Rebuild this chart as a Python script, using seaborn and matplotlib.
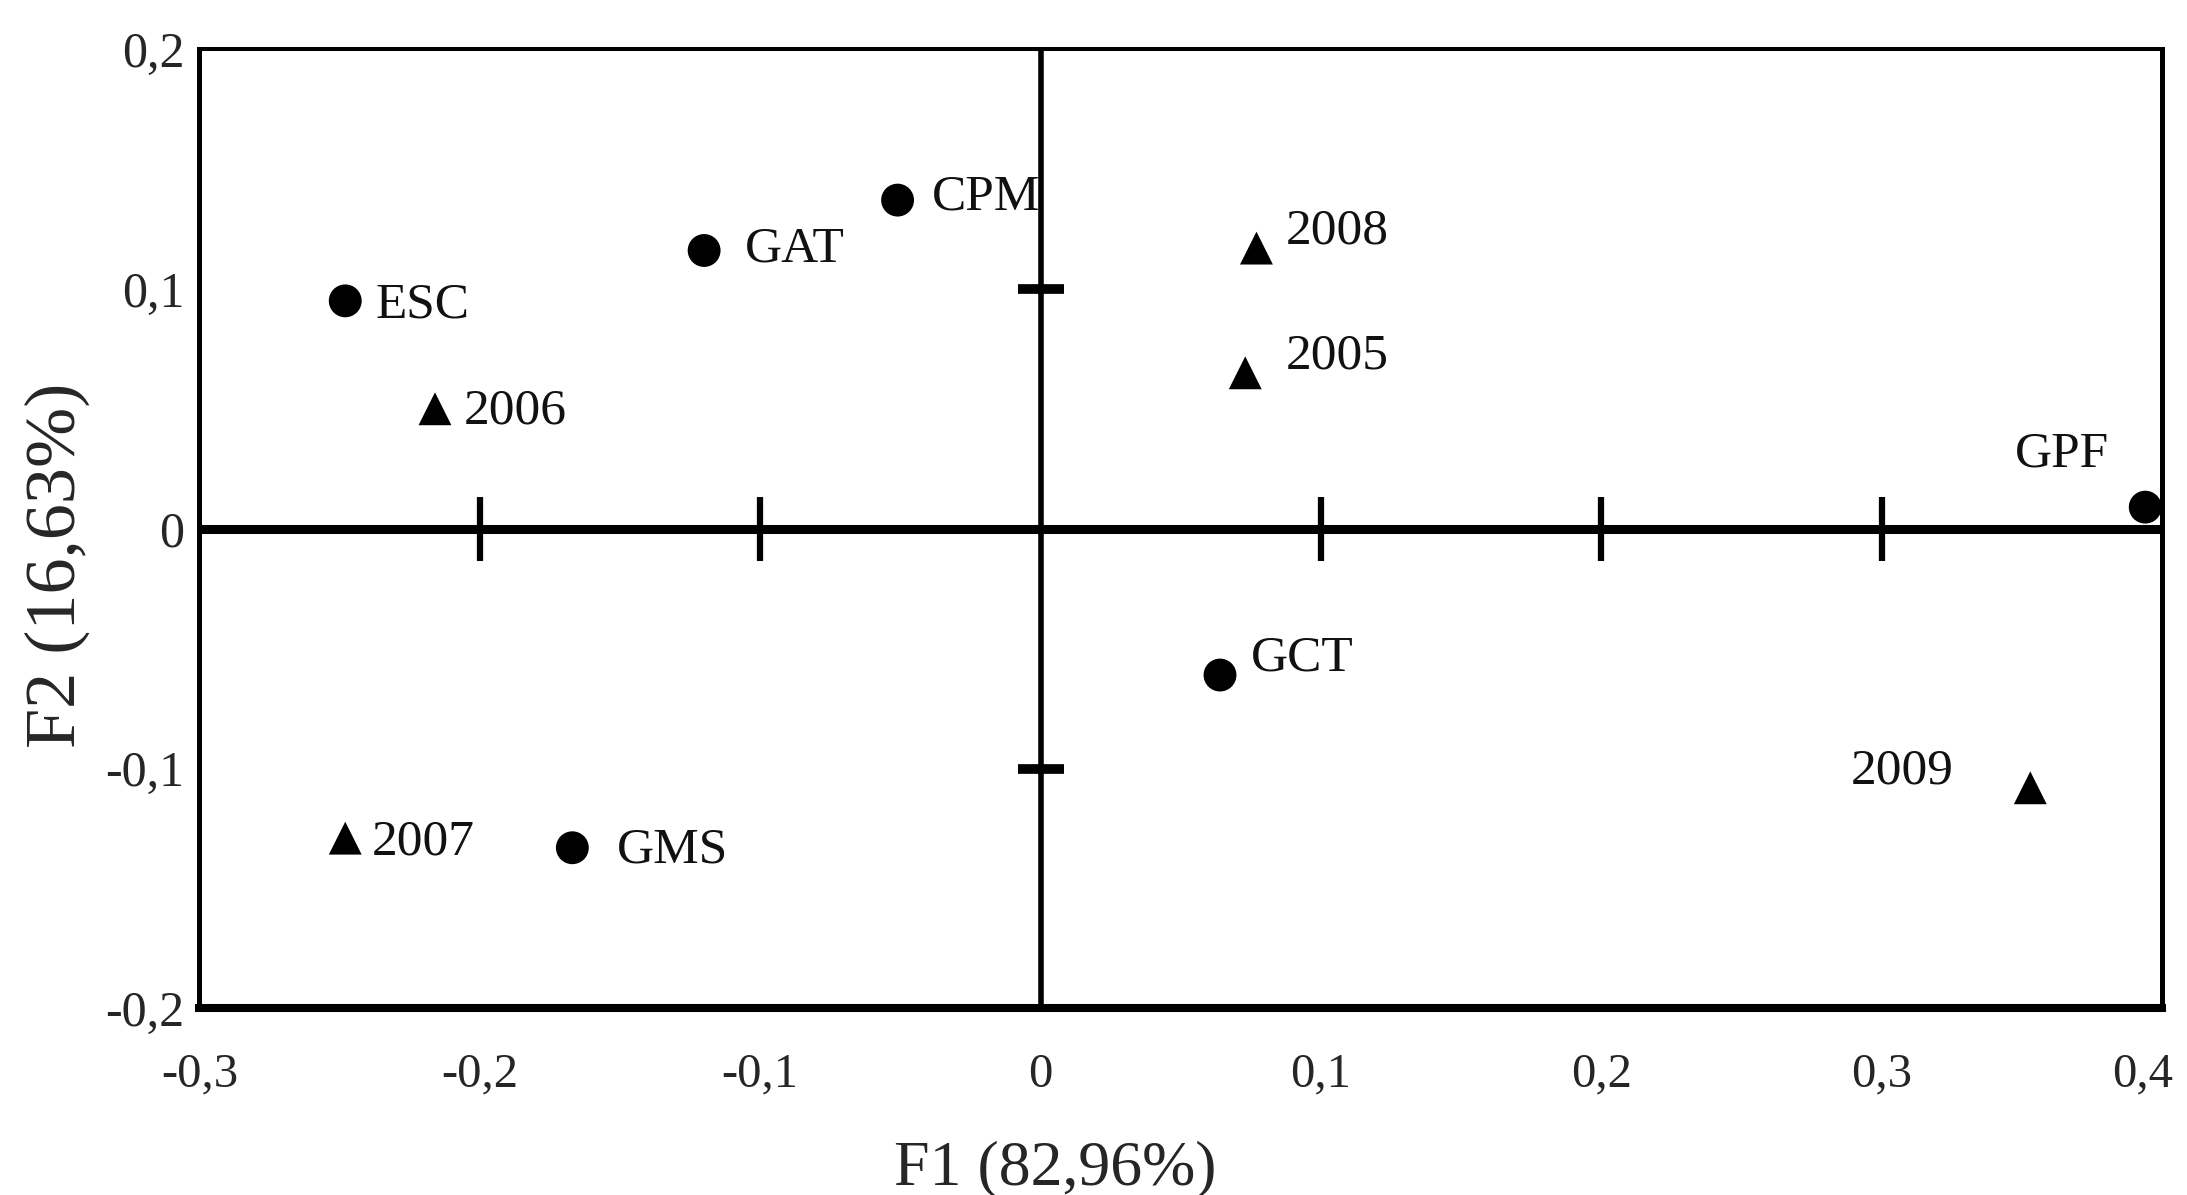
import pandas as pd
import matplotlib.pyplot as plt
import matplotlib.transforms as mtransforms
import seaborn as sns

# PCA biplot coordinates
names = ["ESC", "GAT", "CPM", "GPF", "GCT", "GMS",
         "2005", "2006", "2007", "2008", "2009"]
f1 = [-0.248, -0.120, -0.051, 0.394, 0.064, -0.167,
      0.073, -0.216, -0.248, 0.077, 0.353]
f2 = [0.095, 0.116, 0.137, 0.009, -0.061, -0.133,
      0.065, 0.050, -0.129, 0.117, -0.108]
kind = ["site"] * 6 + ["year"] * 5

x_ticks = [-0.3, -0.2, -0.1, 0, 0.1, 0.2, 0.3, 0.4]
x_labels = ["-0,3", "-0,2", "-0,1", "0", "0,1", "0,2", "0,3", "0,4"]
y_ticks = [-0.2, -0.1, 0, 0.1, 0.2]
y_labels = ["-0,2", "-0,1", "0", "0,1", "0,2"]

df = pd.DataFrame({"name": names, "F1": f1, "F2": f2, "kind": kind})

sns.set_style("white")
plt.rcParams['font.family'] = ['Liberation Serif', 'DejaVu Serif']

fig = plt.figure(figsize=(21.87, 11.95), dpi=100)
ax = fig.add_axes([0.0912, 0.1561, 0.8974, 0.8029])

# cross-shaped zero axes with inner tick marks
ax.axhline(0, color="black", lw=6.5, zorder=1)
ax.axvline(0, color="black", lw=4, zorder=1)
inner_x = [t for t in x_ticks if t not in (0, x_ticks[0], x_ticks[-1])]
inner_y = [t for t in y_ticks if t not in (0, y_ticks[0], y_ticks[-1])]
ax.plot(inner_x, [0] * len(inner_x), ls="none", marker="|",
        markersize=46, markeredgewidth=4.5, color="black", zorder=1)
ax.plot([0] * len(inner_y), inner_y, ls="none", marker="_",
        markersize=33, markeredgewidth=7, color="black", zorder=1)

sns.scatterplot(data=df, x="F1", y="F2", style="kind",
                markers={"site": "o", "year": "^"},
                color="black", s=560, linewidth=0, legend=False,
                ax=ax, zorder=3, clip_on=False)

# label offsets in points (dx, dy, ha)
offsets = {
    "ESC": (22, -3, "left"), "GAT": (29, 1, "left"), "CPM": (25, 2, "left"),
    "GPF": (-26, 38, "right"), "GCT": (22, 12, "left"), "GMS": (32, -2, "left"),
    "2005": (29, 12, "left"), "2006": (21, -2, "left"), "2007": (19, -3, "left"),
    "2008": (21, 12, "left"), "2009": (-55, 12, "right"),
}
for _, r in df.iterrows():
    dx, dy, ha = offsets[r["name"]]
    ax.annotate(r["name"], (r["F1"], r["F2"]), xytext=(dx, dy),
                textcoords="offset points", ha=ha, va="center",
                fontsize=37, color="#111111")

ax.set_xlim(x_ticks[0], x_ticks[-1])
ax.set_ylim(y_ticks[0], y_ticks[-1])
ax.set_xticks(x_ticks)
ax.set_xticklabels(x_labels)
ax.set_yticks(y_ticks)
ax.set_yticklabels(y_labels)
ax.tick_params(axis="x", length=0, pad=32, labelsize=35)
ax.tick_params(axis="y", length=0, pad=11, labelsize=36)

# pull the last x label in so it stays on the canvas
last = ax.get_xticklabels()[-1]
last.set_transform(last.get_transform() +
                   mtransforms.ScaledTranslation(-14 / 72, 0, fig.dpi_scale_trans))

for side, w in {"top": 2.9, "left": 3.6, "right": 3.6, "bottom": 5.8}.items():
    ax.spines[side].set_color("black")
    ax.spines[side].set_linewidth(w)

ax.set_xlabel("F1 (82,96%)", fontsize=46)
ax.set_ylabel("F2 (16,63%)", fontsize=52)
ax.xaxis.set_label_coords(0.436, -0.138)
ax.yaxis.set_label_coords(-0.056, 0.462)

plt.savefig("out.png", dpi=100)
plt.close()
